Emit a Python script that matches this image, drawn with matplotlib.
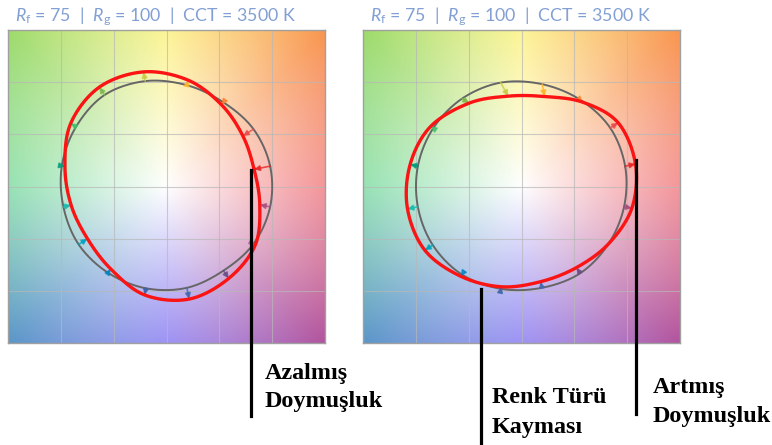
import numpy as np
import matplotlib
matplotlib.use("Agg")
import matplotlib.pyplot as plt
from matplotlib.lines import Line2D

plt.rcParams['mathtext.fontset'] = 'custom'
plt.rcParams['mathtext.rm'] = 'Lato'
plt.rcParams['mathtext.it'] = 'Lato:italic'

# hue bins (TM-30), bin centres in degrees
bin_angles = 11.25 + 22.5 * np.arange(16)
bin_colors = ['#e62828', '#e74b4b', '#fb812e', '#ffb529', '#cbca46', '#7eb94c',
              '#41c06d', '#009c7c', '#16bcb0', '#00a4bf', '#0085c3', '#3b62aa',
              '#4568ae', '#6a4e85', '#9d69a1', '#a74f81']

# left source: reference / test radius per bin
ref_left = [1.00, 0.99, 0.97, 0.99, 1.03, 1.055, 1.03, 1.01,
            0.995, 1.00, 0.995, 0.995, 0.99, 0.97, 0.99, 1.00]
test_left = [0.845, 0.87, 0.94, 1.04, 1.12, 1.145, 1.09, 0.98,
             0.92, 0.90, 0.95, 1.06, 1.10, 1.06, 1.01, 0.90]
shift_left = [0, 0, 0, 0, 0, 0, 0, 0, 0, 0, 0, 0, 0, 0, 0, 0]

# right source
ref_right = [1.00, 1.01, 1.00, 1.00, 1.015, 1.013, 1.005, 1.00,
             1.00, 1.01, 1.015, 1.00, 0.99, 1.00, 0.99, 0.99]
test_right = [1.10, 1.10, 0.995, 0.89, 0.875, 0.94, 1.035, 1.075,
              1.10, 1.10, 1.035, 0.98, 0.93, 0.935, 0.99, 1.065]
shift_right = [0, 0, -2, -3, -3, -2, 0, 0, 0, 0, 0, 0, 0, 0, 0, 0]

title = r'$R_\mathrm{f}$ = 75  |  $R_\mathrm{g}$ = 100  |  CCT = 3500 K'

# background hue wheel anchors (angle deg, rgb)
bg_angles = [0, 45, 90, 135, 180, 225, 270, 315, 360]
bg_rgb = np.array([(240, 110, 115), (249, 150, 80), (252, 240, 110), (157, 219, 106),
                   (110, 215, 150), (91, 150, 200), (120, 105, 240), (178, 84, 158),
                   (240, 110, 115)]) / 255.0


def background(n=300):
    v = np.linspace(-1.5, 1.5, n)
    X, Y = np.meshgrid(v, v[::-1])
    ang = np.degrees(np.arctan2(Y, X)) % 360
    r = np.hypot(X, Y)
    f = np.clip(r / 2.12, 0, 1) ** 0.95
    img = np.ones((n, n, 3))
    for c in range(3):
        col = np.interp(ang, bg_angles, bg_rgb[:, c])
        img[..., c] = 1 - (1 - col) * f
    return img


def closed_curve(x, y, n=24):
    P = np.column_stack([x, y])
    N = len(P)
    t = np.linspace(0, 1, n, endpoint=False)[:, None]
    segs = []
    for i in range(N):
        p0, p1, p2, p3 = P[i - 1], P[i], P[(i + 1) % N], P[(i + 2) % N]
        segs.append(0.5 * (2 * p1 + (p2 - p0) * t + (2 * p0 - 5 * p1 + 4 * p2 - p3) * t ** 2
                           + (3 * p1 - p0 - 3 * p2 + p3) * t ** 3))
    out = np.vstack(segs + [P[:1]])
    return out[:, 0], out[:, 1]


def draw_panel(ax, ref_r, test_r, shift, img):
    ax.imshow(img, extent=(-1.5, 1.5, -1.5, 1.5), aspect='auto', zorder=0)
    for g in [-1, -0.5, 0, 0.5, 1]:
        ax.axvline(g, color='#b8b8b8', lw=0.8, alpha=0.7, zorder=1)
        ax.axhline(g, color='#b8b8b8', lw=0.8, alpha=0.7, zorder=1)
    a = np.radians(bin_angles)
    rx, ry = np.array(ref_r) * np.cos(a), np.array(ref_r) * np.sin(a)
    at = np.radians(bin_angles + np.array(shift))
    tx, ty = np.array(test_r) * np.cos(at), np.array(test_r) * np.sin(at)
    cx, cy = closed_curve(rx, ry)
    ax.plot(cx, cy, color='#666666', lw=1.4, zorder=2)
    for i in range(16):
        ax.annotate('', xy=(tx[i], ty[i]), xytext=(rx[i], ry[i]),
                    arrowprops=dict(arrowstyle='-|>', color=bin_colors[i], lw=1.2,
                                    alpha=0.8, mutation_scale=8,
                                    shrinkA=0, shrinkB=0), zorder=3)
    cx, cy = closed_curve(tx, ty)
    ax.plot(cx, cy, color='#fa1414', lw=2.4, zorder=4)
    ax.set_xlim(-1.5, 1.5)
    ax.set_ylim(-1.5, 1.5)
    ax.set_xticks([])
    ax.set_yticks([])
    for s in ax.spines.values():
        s.set_color('#a0a0a0')
        s.set_linewidth(1.0)


W, H = 772, 445
fig = plt.figure(figsize=(W / 100, H / 100), dpi=100)
img = background()

ax1 = fig.add_axes([8 / W, 1 - 343 / H, 317 / W, 313 / H])
draw_panel(ax1, ref_left, test_left, shift_left, img)
ax2 = fig.add_axes([363 / W, 1 - 343 / H, 317 / W, 313 / H])
draw_panel(ax2, ref_right, test_right, shift_right, img)

for x0 in [15, 370]:
    fig.text(x0 / W, 1 - 21 / H, title, fontsize=12.8, family='Lato',
             color='#82a0d4', va='baseline')

# pointer lines
for x, y0, y1 in [(251, 170, 416), (481, 289, 445), (636, 160, 414)]:
    fig.add_artist(Line2D([x / W, x / W], [1 - y0 / H, 1 - y1 / H],
                          color='black', lw=2.3, zorder=10))

labels = [(265, 379, 'Azalmış'), (265, 407, 'Doymuşluk'),
          (492, 403, 'Renk Türü'), (492, 433, 'Kayması'),
          (653, 393, 'Artmış'), (653, 422, 'Doymuşluk')]
for x, y, s in labels:
    fig.text(x / W, 1 - y / H, s, fontsize=17.4, family='Liberation Serif',
             weight='bold', color='black', va='baseline')

fig.savefig('out.png', dpi=100)
